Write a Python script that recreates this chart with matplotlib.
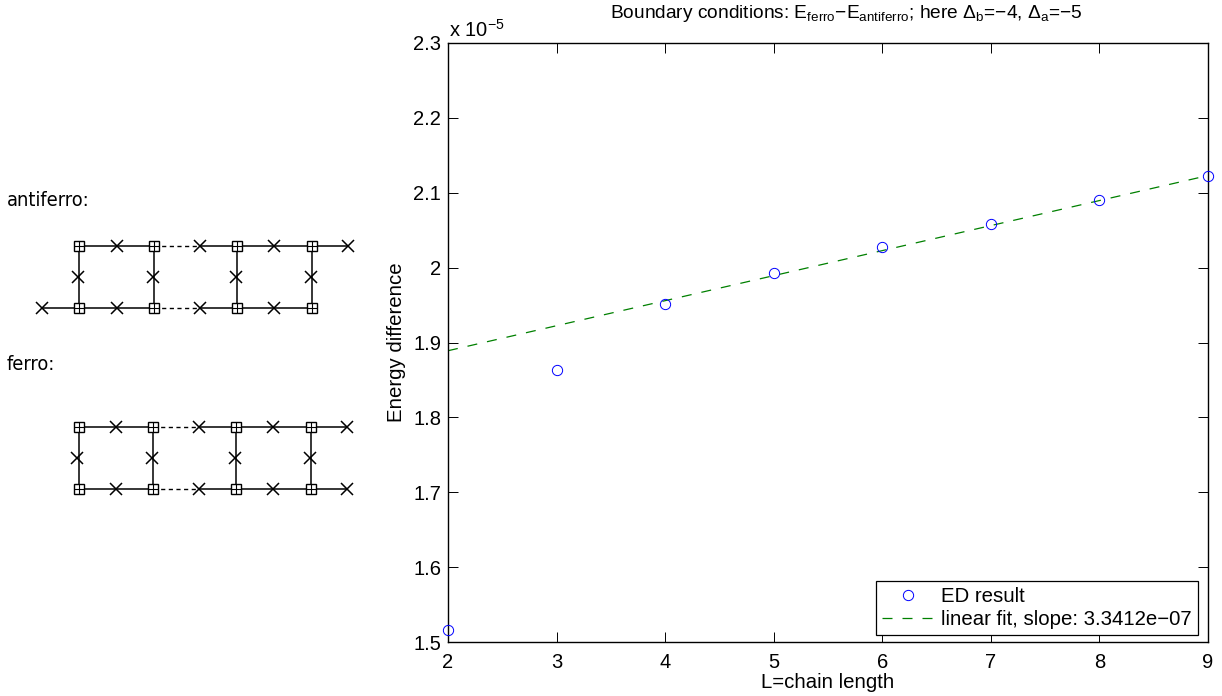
import matplotlib
matplotlib.use('Agg')
import matplotlib.pyplot as plt

plt.rcParams['font.family'] = ['Liberation Sans', 'DejaVu Sans']
plt.rcParams['mathtext.fontset'] = 'custom'
plt.rcParams['mathtext.rm'] = 'Liberation Sans'
plt.rcParams['mathtext.it'] = 'Liberation Sans'
plt.rcParams['mathtext.bf'] = 'Liberation Sans'
plt.rcParams['mathtext.default'] = 'regular'

# Values (energy difference in units of 1e-5)
chain_length = [2, 3, 4, 5, 6, 7, 8, 9]
energy_diff = [1.516, 1.863, 1.952, 1.993, 2.027, 2.058, 2.090, 2.122]
fit_x = [2, 9]
fit_y = [1.889, 2.123]
x_ticks = [2, 3, 4, 5, 6, 7, 8, 9]
y_ticks = [1.5, 1.6, 1.7, 1.8, 1.9, 2, 2.1, 2.2, 2.3]
y_labels = ['1.5', '1.6', '1.7', '1.8', '1.9', '2', '2.1', '2.2', '2.3']

# Lattice sketches, in figure pixels
af_squares_x = [79, 154, 237, 312]
af_top_crosses = [117, 200, 274, 348]
af_bottom_crosses = [42, 117, 200, 274]
af_mid_crosses = [78, 153, 236, 311]
af_rows = [245.7, 277, 307.7]

fe_squares_x = [78.5, 153, 236, 310.5]
fe_top_crosses = [116, 199, 273, 347]
fe_bottom_crosses = [116, 199, 273, 347]
fe_mid_crosses = [77, 152, 235, 310]
fe_rows = [427, 458, 489]

W, H = 1222, 696
fig = plt.figure(figsize=(W / 100, H / 100), dpi=100)
ax = fig.add_axes([448 / W, 1 - 642 / H, 760 / W, 599 / H])

ax.plot(chain_length, energy_diff, 'o', mfc='none', mec='#0000ff', ms=7.4, mew=0.7,
        clip_on=False, zorder=3, label='ED result')
ax.plot(fit_x, fit_y, color='#008000', lw=0.9, dashes=(8, 8), zorder=2,
        label='linear fit, slope: 3.3412e\u221207')
ax.set_xlim(2, 9)
ax.set_ylim(1.5, 2.3)
ax.set_xticks(x_ticks)
ax.set_yticks(y_ticks)
ax.set_yticklabels(y_labels)
ax.tick_params(direction='in', length=7, width=0.7, labelsize=14.5, top=True, right=True)
ax.tick_params(axis='x', pad=8)
ax.tick_params(axis='y', pad=5)
for side in ax.spines.values():
    side.set_linewidth(1.0)
ax.set_xlabel('L=chain length', fontsize=14.7, labelpad=1)
ax.set_ylabel('Energy difference', fontsize=14.7, labelpad=5)
ax.set_title('Boundary conditions: E$_{ferro}$\u2212E$_{antiferro}$; here $\\Delta_b$=\u22124, $\\Delta_a$=\u22125',
             fontsize=13.8, pad=18, x=0.5237)
fig.text(449 / W, 1 - 37 / H, 'x 10$^{-5}$', fontsize=14.5, ha='left', va='baseline')

leg = ax.legend(loc='lower right', fontsize=14.7, frameon=True, fancybox=False, framealpha=1,
                edgecolor='black', borderaxespad=0, bbox_to_anchor=(1198 / W, 1 - 635 / H),
                bbox_transform=fig.transFigure, labelspacing=0.2, handlelength=2.5,
                handletextpad=0.4, borderpad=0.3)
leg.get_frame().set_linewidth(0.9)

# Overlay in pixel coordinates for the lattice sketches
sk = fig.add_axes([0, 0, 1, 1], facecolor='none')
sk.set_xlim(0, W)
sk.set_ylim(H, 0)
sk.axis('off')


def draw_lattice(squares_x, top_x, bottom_x, mid_x, rows):
    top, mid, bottom = rows
    for y, row in ((top, top_x), (bottom, bottom_x)):
        left = min(squares_x[0], row[0])
        gap_end = min(c for c in row if c > squares_x[1])
        sk.plot([left, squares_x[1]], [y, y], 'k', lw=1.1)
        sk.plot([squares_x[1], gap_end], [y, y], 'k', lw=1.0, dashes=(3, 2.5))
        sk.plot([gap_end, max(squares_x[-1], row[-1])], [y, y], 'k', lw=1.1)
        sk.plot(row, [y] * len(row), 'x', color='k', ms=8.8, mew=1.1)
    for x in squares_x:
        sk.plot([x, x], [top, bottom], 'k', lw=1.1)
        for y in (top, bottom):
            sk.plot(x, y, 's', mfc='white', mec='k', ms=7.6, mew=1.0)
            sk.plot(x, y, '+', color='k', ms=7.6, mew=0.8)
    sk.plot(mid_x, [mid] * len(mid_x), 'x', color='k', ms=8.8, mew=1.1)


draw_lattice(af_squares_x, af_top_crosses, af_bottom_crosses, af_mid_crosses, af_rows)
draw_lattice(fe_squares_x, fe_top_crosses, fe_bottom_crosses, fe_mid_crosses, fe_rows)

sk.text(7, 206, 'antiferro:', fontsize=14.3, family='DejaVu Sans', stretch='condensed', va='baseline')
sk.text(7, 370, 'ferro:', fontsize=14.3, family='DejaVu Sans', stretch='condensed', va='baseline')

fig.savefig('out.png', dpi=100)
